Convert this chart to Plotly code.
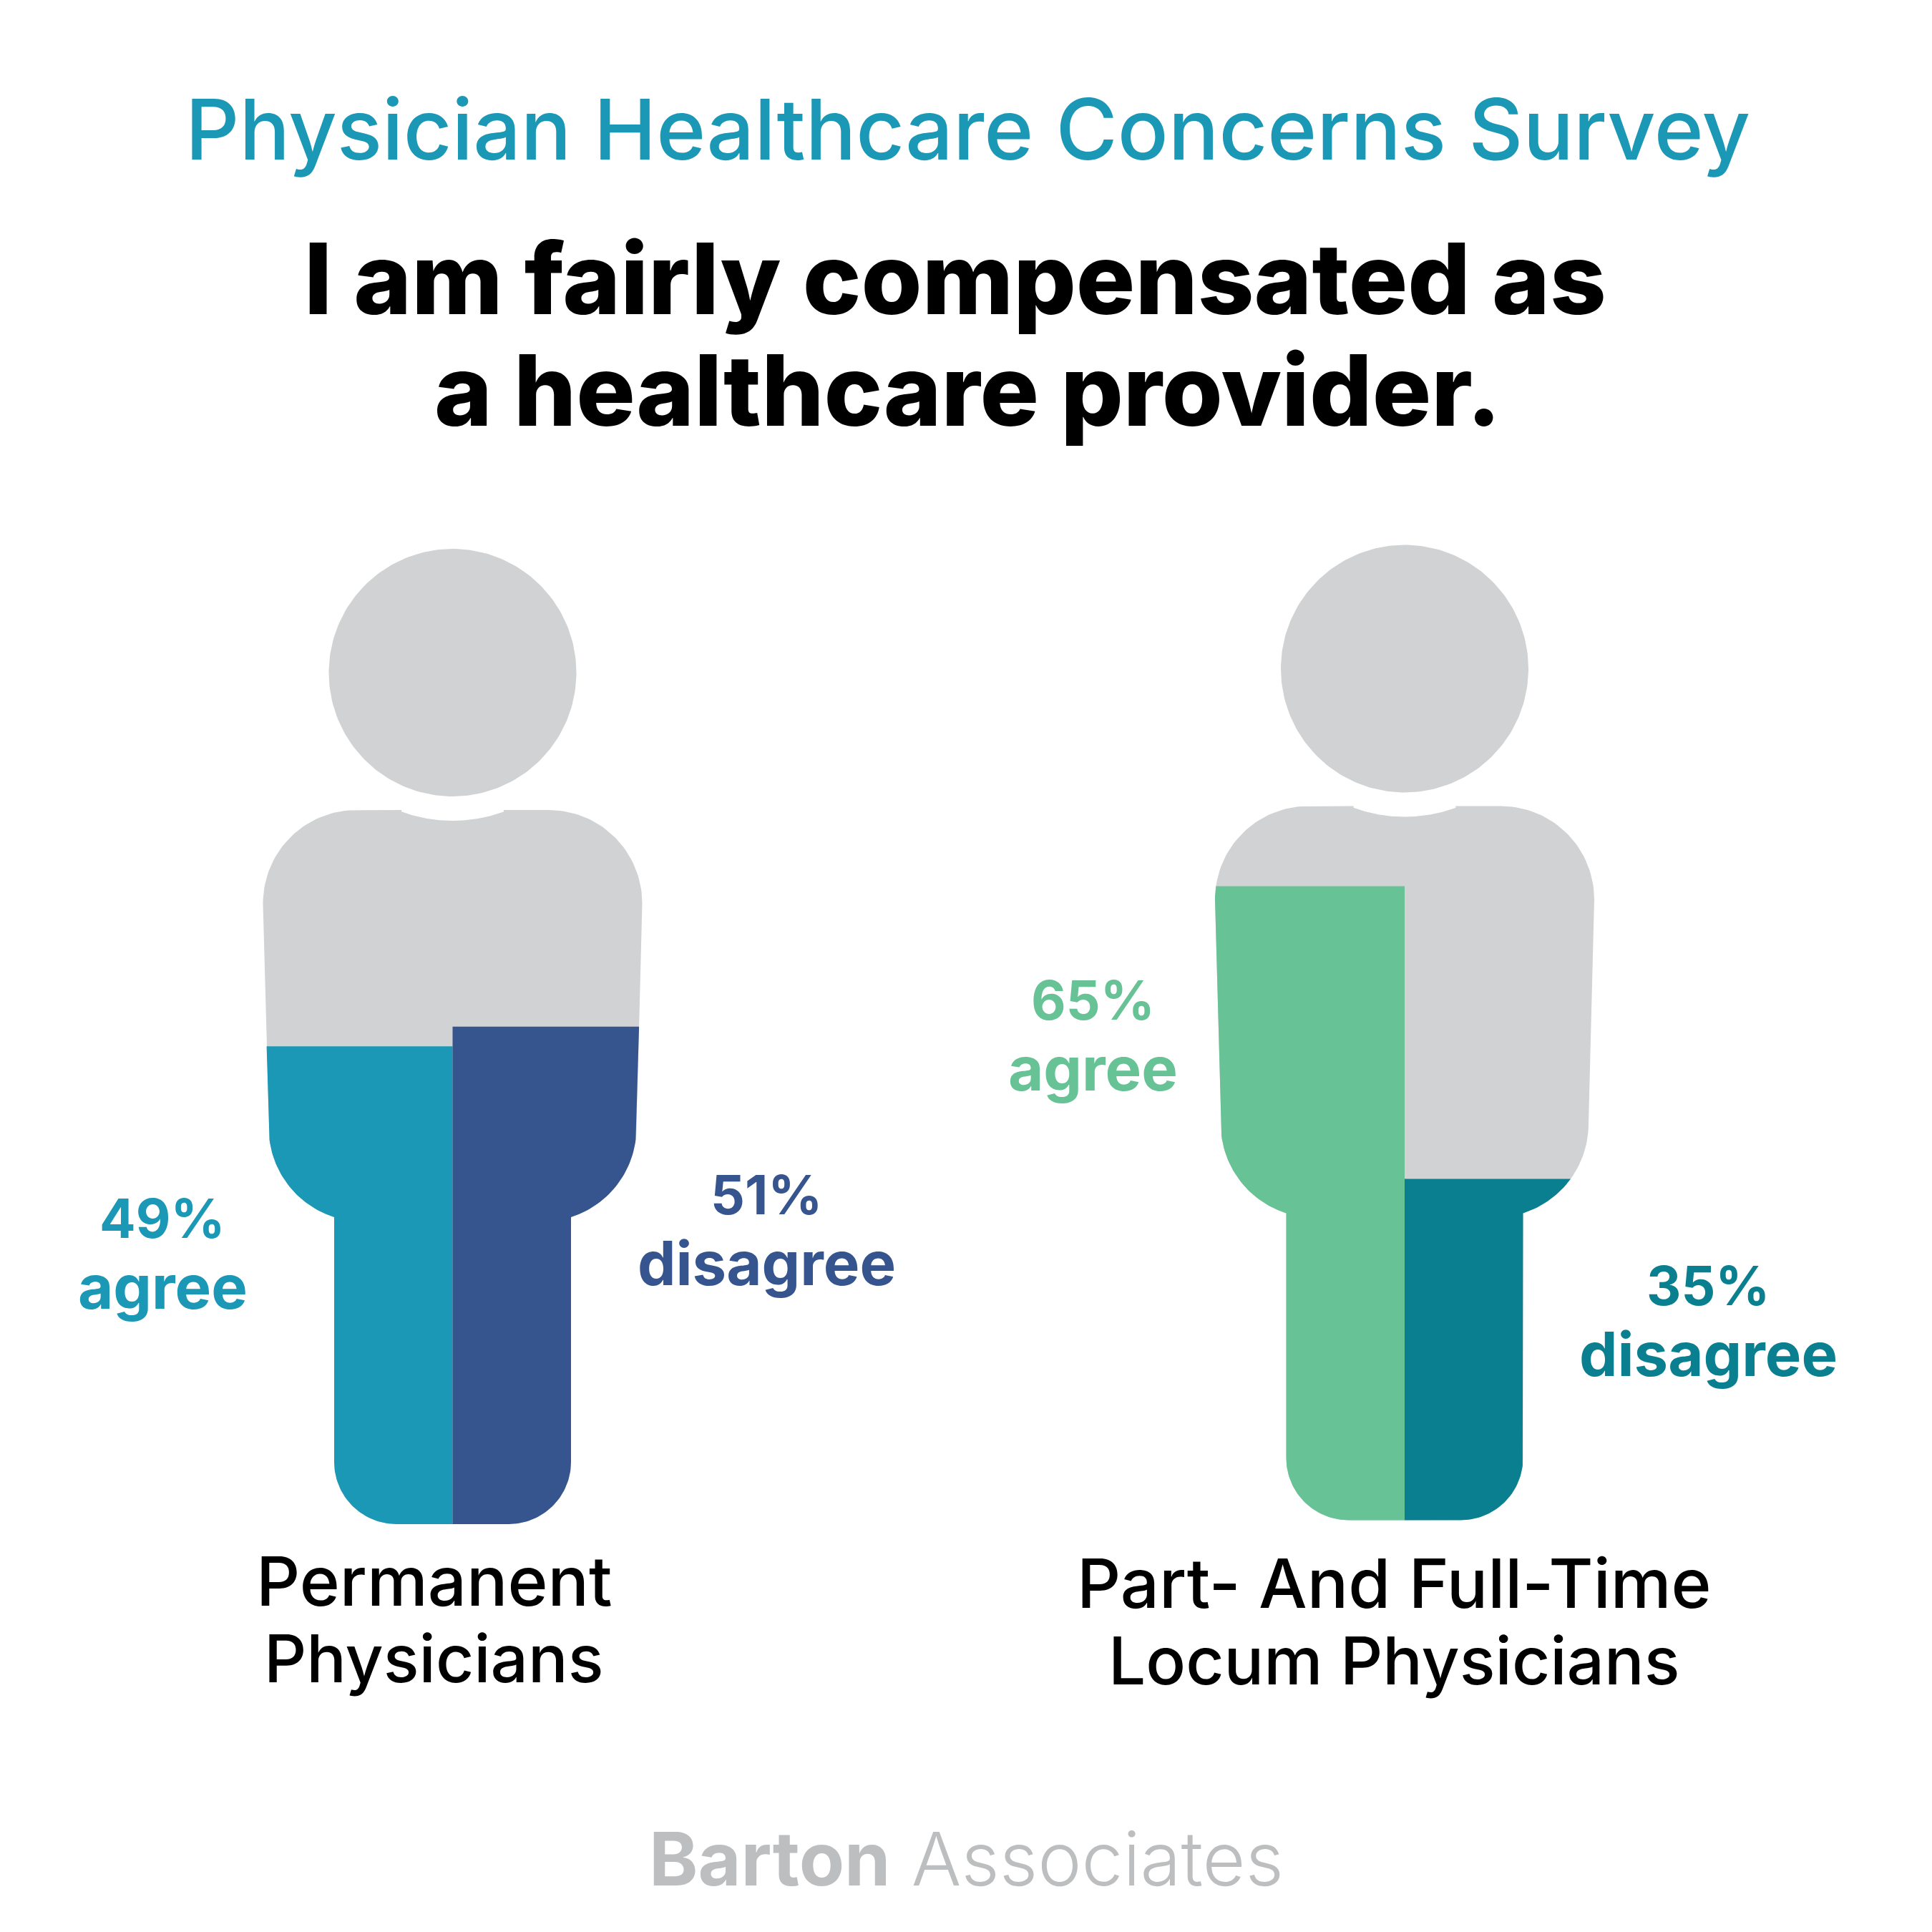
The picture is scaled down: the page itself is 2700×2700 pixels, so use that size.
import numpy as np
import plotly.graph_objects as go

# ---- data ----
groups_line1 = ["Permanent", "Part- And Full-Time"]
groups_line2 = ["Physicians", "Locum Physicians"]
agree = [49, 65]
disagree = [51, 35]
title = "Physician Healthcare Concerns Survey"
question = ["I am fairly compensated as", "a healthcare provider."]
brand_bold = "Barton"
brand_light = "Associates"

# ---- style ----
GRAY = "#d0d2d3"
agree_colors = ["#1a98b5", "#67c295"]
disagree_colors = ["#36558f", "#0a7f8f"]
TITLE_COLOR = "#1a98b5"
BRAND = "#bcbebf"
S = 2700
FONT = "Inter"
center_x = [632.5, 1963.0]
feet_px = [2130.0, 2124.5]
PERSON_H = 1363.0
UNIT = PERSON_H / 100.0  # pixels per percent


def arc(cx, cy, r, a0, a1, n=40):
    t = np.radians(np.linspace(a0, a1, n))
    return cx + r * np.cos(t), cy + r * np.sin(t)


def left_half():
    """Left half silhouette: dx from centre, height in percent of the person."""
    ncy = -1363 + 173  # head centre
    xs, ys = [], []
    ang = np.degrees(np.arcsin(71.4 / 207))
    a, b = arc(0, ncy, 207, 90, 90 + ang)
    xs += list(a); ys += list(b)
    top = 1132 - 2130
    a, b = arc(-134.5, top + 130.5, 130.5, 270, 180)
    xs += [-71.4] + list(a); ys += [top] + list(b)
    end = np.degrees(np.arccos(-39.5 / 131))
    a, b = arc(-126, 1576 - 2130, 131, 180, end)
    xs += list(a); ys += list(b)
    a, b = arc(-78.5, -87, 87, 180, 90)
    xs = xs + [-165.5] + list(a) + [0]
    ys = ys + [1701 - 2130] + list(b) + [0]
    return np.array(xs), -np.array(ys) / UNIT


def clip_below(x, h, level):
    """Keep the part of a closed polygon at or below the level."""
    ox, oh = [], []
    n = len(x)
    for i in range(n):
        j = (i + 1) % n
        in_i, in_j = h[i] <= level, h[j] <= level
        if in_i:
            ox.append(x[i]); oh.append(h[i])
        if in_i != in_j:
            t = (level - h[i]) / (h[j] - h[i])
            ox.append(x[i] + t * (x[j] - x[i])); oh.append(level)
    return np.array(ox), np.array(oh)


def poly(fig, x, h, color, yaxis):
    fig.add_trace(go.Scatter(
        x=np.r_[x, x[0]], y=np.r_[h, h[0]], mode="lines", fill="toself",
        fillcolor=color, line=dict(width=0, color=color), hoverinfo="skip",
        showlegend=False, yaxis=yaxis))


fig = go.Figure()
hx, hh = left_half()
head_t = np.radians(np.linspace(0, 360, 241))
for i, yaxis in enumerate(["y", "y2"]):
    cx = center_x[i]
    poly(fig, cx + 173 * np.cos(head_t), (1363 - 173 + 173 * np.sin(head_t)) / UNIT, GRAY, yaxis)
    poly(fig, cx + np.r_[hx, -hx[::-1]], np.r_[hh, hh[::-1]], GRAY, yaxis)
    lx, lh = clip_below(hx, hh, agree[i])
    poly(fig, cx + lx, lh, agree_colors[i], yaxis)
    rx, rh = clip_below(-hx, hh, disagree[i])
    poly(fig, cx + rx, rh, disagree_colors[i], yaxis)


def txt(s, x, y, size, color, weight=400):
    fig.add_annotation(text=s, x=x / S, y=1 - y / S, xref="paper", yref="paper",
                       xanchor="center", yanchor="middle", showarrow=False,
                       font=dict(family=FONT, size=size, color=color, weight=weight))


txt(title, 1352, 180, 117.5, TITLE_COLOR, 500)
txt(question[0], 1335, 389, 137.5, "#000000", 800)
txt(question[1], 1353, 545, 137.5, "#000000", 800)

agree_pos = [(227, 1702, 1798), (1527, 1397, 1493)]
dis_pos = [(1071, 1669, 1765), (2387, 1796, 1892)]
for i in range(2):
    x, y1, y2 = agree_pos[i]
    txt(f"{agree[i]}%", x, y1, 75, agree_colors[i], 700)
    txt("agree", x, y2, 85, agree_colors[i], 700)
    x, y1, y2 = dis_pos[i]
    txt(f"{disagree[i]}%", x, y1, 75, disagree_colors[i], 700)
    txt("disagree", x, y2, 85, disagree_colors[i], 700)

lab_pos = [(606, 2209, 2317), (1948, 2212, 2320)]
for i in range(2):
    x, y1, y2 = lab_pos[i]
    txt(groups_line1[i], x, y1, 95.5, "#000000", 500)
    txt(groups_line2[i], x, y2, 92.5, "#000000", 500)

txt(f"<b>{brand_bold}</b> <span style='font-weight:300'>{brand_light}</span>", 1350, 2597, 103.5, BRAND, 400)


def yrange(feet):
    return [(feet - S) / UNIT, feet / UNIT]


fig.update_layout(
    width=S, height=S, margin=dict(l=0, r=0, t=0, b=0),
    paper_bgcolor="#ffffff", plot_bgcolor="#ffffff", showlegend=False,
    xaxis=dict(range=[0, S], visible=False, fixedrange=True),
    yaxis=dict(range=yrange(feet_px[0]), visible=False, fixedrange=True),
    yaxis2=dict(range=yrange(feet_px[1]), visible=False, fixedrange=True,
                overlaying="y"),
)
fig.write_html("out.html", config={"displayModeBar": False},
               post_script="document.body.style.margin='0';")
